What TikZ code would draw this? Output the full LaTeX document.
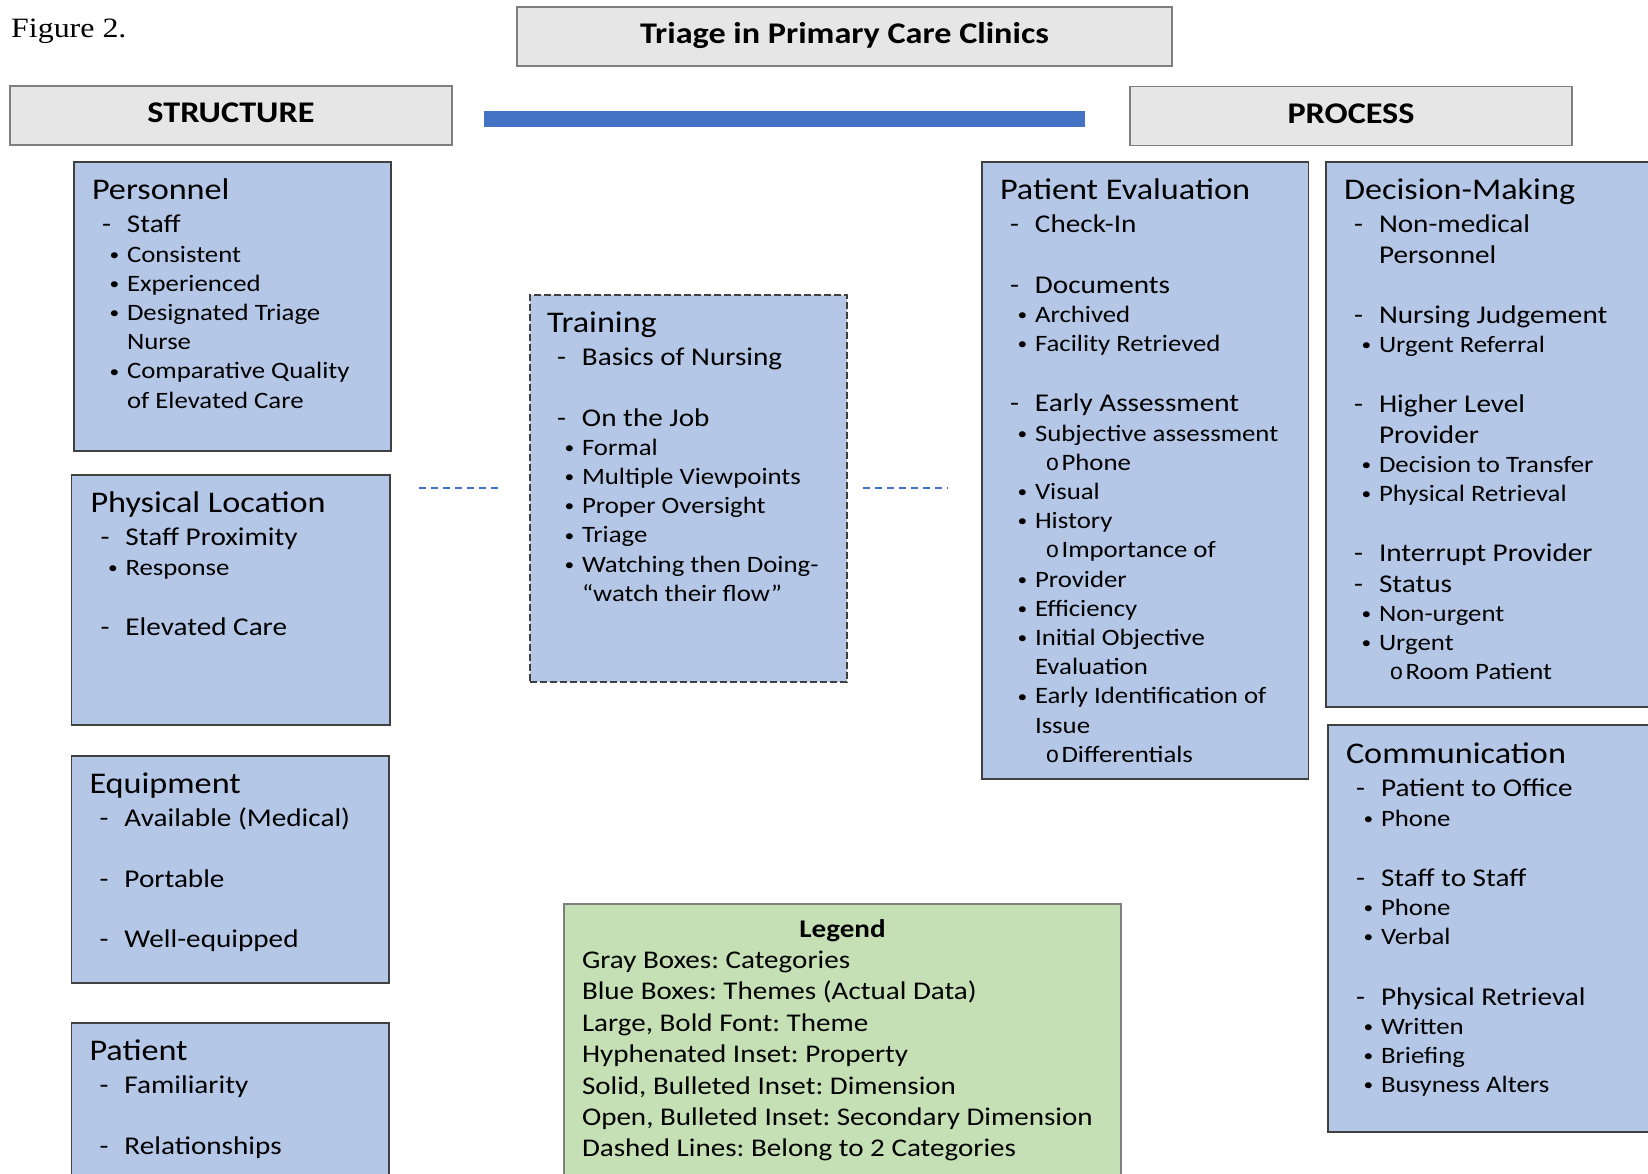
\documentclass[tikz,border=0pt]{standalone}
\usepackage{fontspec}
\setmainfont[FakeStretch=1.14]{Carlito}
\newfontfamily\figfont[FakeStretch=1.14]{Liberation Serif}
\newfontfamily\ringfont{Liberation Mono}
\usetikzlibrary{calc}
\definecolor{boxblue}{HTML}{B4C7E7}
\definecolor{boxgray}{HTML}{E7E6E6}
\definecolor{legendgreen}{HTML}{C5E0B4}
\definecolor{barblue}{HTML}{4472C4}
\definecolor{edgegray}{HTML}{7F7F7F}
\definecolor{edgedark}{HTML}{404040}

% heading, property (dash), property continuation, dimension (bullet),
% dimension continuation, secondary dimension (open bullet), blank line
\newcommand\ihd[1]{\hbox{\fontsize{30}{30}\selectfont #1}\vspace{3.5pt}}
\newcommand\ipr[1]{\begingroup\baselineskip=30.3pt\hbox{\fontsize{25.6}{30}\selectfont\hspace*{10pt}\makebox[25pt][l]{-}#1}\endgroup}
\newcommand\icp[1]{\begingroup\baselineskip=30.3pt\hbox{\fontsize{25.6}{30}\selectfont\hspace*{35pt}#1}\endgroup}
\newcommand\idm[1]{\hbox{\hspace*{17.5pt}\makebox[17.5pt][l]{\raisebox{1.8pt}{\fontsize{17}{17}\selectfont •}}#1}}
\newcommand\ict[1]{\hbox{\hspace*{35pt}#1}}
\newcommand\isd[1]{\hbox{\hspace*{45.5pt}\makebox[16pt][l]{\ringfont\fontsize{23}{23}\selectfont o}#1}}
\newcommand\ibl{\vspace{30pt}}
\newcommand\bodyset{\fontsize{23.5}{29.2}\selectfont\lineskiplimit=-100pt\lineskip=0pt\frenchspacing\relax}

\tikzset{
  bluebox/.style={draw=edgedark, line width=1.2pt, fill=boxblue, anchor=north west, inner sep=0pt, outer sep=0pt},
  dashbox/.style={bluebox, dash pattern=on 7pt off 3pt},
  graybox/.style={draw=edgegray, line width=1.5pt, fill=boxgray, inner sep=0pt, outer sep=0pt,
    font=\fontsize{30}{30}\selectfont\bfseries, text height=19.3pt, text depth=4.5pt},
  legendbox/.style={draw=edgegray, line width=1.2pt, fill=legendgreen, anchor=north west, inner sep=0pt, outer sep=0pt},
  boxtext/.style={anchor=base west, inner sep=0pt, outer sep=0pt},
  twocat/.style={draw=barblue, line width=1.3pt, dash pattern=on 7pt off 5pt},
  bar/.style={draw=barblue, line width=16pt}
}

\begin{document}
\begin{tikzpicture}[x=1pt, y=-1pt]
\useasboundingbox (0,0) rectangle (1648,1173);

% caption
\node[anchor=base west, inner sep=0pt, font=\figfont\fontsize{28}{28}\selectfont] (fig) at (11,37) {Figure 2.};

% gray category boxes
\node[graybox, minimum width=655pt, minimum height=59pt] (title) at (844.5,36.5) {Triage in Primary Care Clinics};
\node[graybox, minimum width=442pt, minimum height=59pt] (struct) at (231,115.5) {STRUCTURE};
\node[graybox, minimum width=442pt, minimum height=59pt] (proc) at (1351,116) {PROCESS};

% blue bar
\coordinate (barL) at (484,119);
\coordinate (barR) at (1085,119);
\draw[bar] (barL) -- (barR);

% Personnel
\node[bluebox, minimum width=317pt, minimum height=289pt] (pers) at (74,162) {};
\node[boxtext] (pers-t) at ($(pers.north west)+(18,37)$) {\parbox[t]{300pt}{\bodyset
  \ihd{Personnel}
  \ipr{Staff}
  \idm{Consistent}
  \idm{Experienced}
  \idm{Designated Triage}
  \ict{Nurse}
  \idm{Comparative Quality}
  \ict{of Elevated Care}}};

% Physical Location
\node[bluebox, minimum width=318.5pt, minimum height=250pt] (phys) at (71.5,475) {};
\node[boxtext] (phys-t) at ($(phys.north west)+(19,37)$) {\parbox[t]{300pt}{\bodyset
  \ihd{Physical Location}
  \ipr{Staff Proximity}
  \idm{Response}
  \ibl
  \ipr{Elevated Care}}};

% Equipment
\node[bluebox, minimum width=317.5pt, minimum height=227pt] (equip) at (71.5,756) {};
\node[boxtext] (equip-t) at ($(equip.north west)+(18,37)$) {\parbox[t]{300pt}{\bodyset
  \ihd{Equipment}
  \ipr{Available (Medical)}
  \ibl
  \ipr{Portable}
  \ibl
  \ipr{Well-equipped}}};

% Patient
\node[bluebox, minimum width=317.5pt, minimum height=175pt] (pat) at (71.5,1023) {};
\node[boxtext] (pat-t) at ($(pat.north west)+(18,37)$) {\parbox[t]{300pt}{\bodyset
  \ihd{Patient}
  \ipr{Familiarity}
  \ibl
  \ipr{Relationships}}};

% Training (belongs to both categories)
\node[dashbox, minimum width=317pt, minimum height=387pt] (train) at (530,295) {};
\node[boxtext] (train-t) at ($(train.north west)+(17,37)$) {\parbox[t]{300pt}{\bodyset
  \ihd{Training}
  \ipr{Basics of Nursing}
  \ibl
  \ipr{On the Job}
  \idm{Formal}
  \idm{Multiple Viewpoints}
  \idm{Proper Oversight}
  \idm{Triage}
  \idm{Watching then Doing-}
  \ict{“watch their flow”}}};

\coordinate (dl1) at (419,488);
\coordinate (dl2) at (502,488);
\coordinate (dr1) at (863,488);
\coordinate (dr2) at (948,488);
\draw[twocat] (dl1) -- (dl2);
\draw[twocat] (dr1) -- (dr2);

% Patient Evaluation
\node[bluebox, minimum width=326.5pt, minimum height=617pt] (peval) at (982,162) {};
\node[boxtext] (peval-t) at ($(peval.north west)+(18,37)$) {\parbox[t]{310pt}{\bodyset
  \ihd{Patient Evaluation}
  \ipr{Check-In}
  \ibl
  \ipr{Documents}
  \idm{Archived}
  \idm{Facility Retrieved}
  \ibl
  \ipr{Early Assessment}
  \idm{Subjective assessment}
  \isd{Phone}
  \idm{Visual}
  \idm{History}
  \isd{Importance of}
  \idm{Provider}
  \idm{Efficiency}
  \idm{Initial Objective}
  \ict{Evaluation}
  \idm{Early Identification of}
  \ict{Issue}
  \isd{Differentials}}};

% Decision-Making
\node[bluebox, minimum width=340pt, minimum height=545pt] (dec) at (1326,162) {};
\node[boxtext] (dec-t) at ($(dec.north west)+(18,37)$) {\parbox[t]{310pt}{\bodyset
  \ihd{Decision-Making}
  \ipr{Non-medical}
  \icp{Personnel}
  \ibl
  \ipr{Nursing Judgement}
  \idm{Urgent Referral}
  \ibl
  \ipr{Higher Level}
  \icp{Provider}
  \idm{Decision to Transfer}
  \idm{Physical Retrieval}
  \ibl
  \ipr{Interrupt Provider}
  \ipr{Status}
  \idm{Non-urgent}
  \idm{Urgent}
  \isd{Room Patient}}};

% Communication
\node[bluebox, minimum width=340pt, minimum height=407pt] (comm) at (1328,725) {};
\node[boxtext] (comm-t) at ($(comm.north west)+(18,38)$) {\parbox[t]{310pt}{\bodyset
  \ihd{Communication}
  \ipr{Patient to Office}
  \idm{Phone}
  \ibl
  \ipr{Staff to Staff}
  \idm{Phone}
  \idm{Verbal}
  \ibl
  \ipr{Physical Retrieval}
  \idm{Written}
  \idm{Briefing}
  \idm{Busyness Alters}}};

% Legend
\node[legendbox, minimum width=557pt, minimum height=290pt] (leg) at (564,904) {};
\node[boxtext] (leg-t) at (582,937) {\parbox[t]{521pt}{\fontsize{25.5}{31.4}\selectfont\lineskiplimit=-100pt\lineskip=0pt\frenchspacing\relax
  \hbox to 521pt{\hfil\bfseries Legend\hfil}
  \hbox{Gray Boxes: Categories}
  \hbox{Blue Boxes: Themes (Actual Data)}
  \hbox{Large, Bold Font: Theme}
  \hbox{Hyphenated Inset: Property}
  \hbox{Solid, Bulleted Inset: Dimension}
  \hbox{Open, Bulleted Inset: Secondary Dimension}
  \hbox{Dashed Lines: Belong to 2 Categories}}};
\end{tikzpicture}
\end{document}
